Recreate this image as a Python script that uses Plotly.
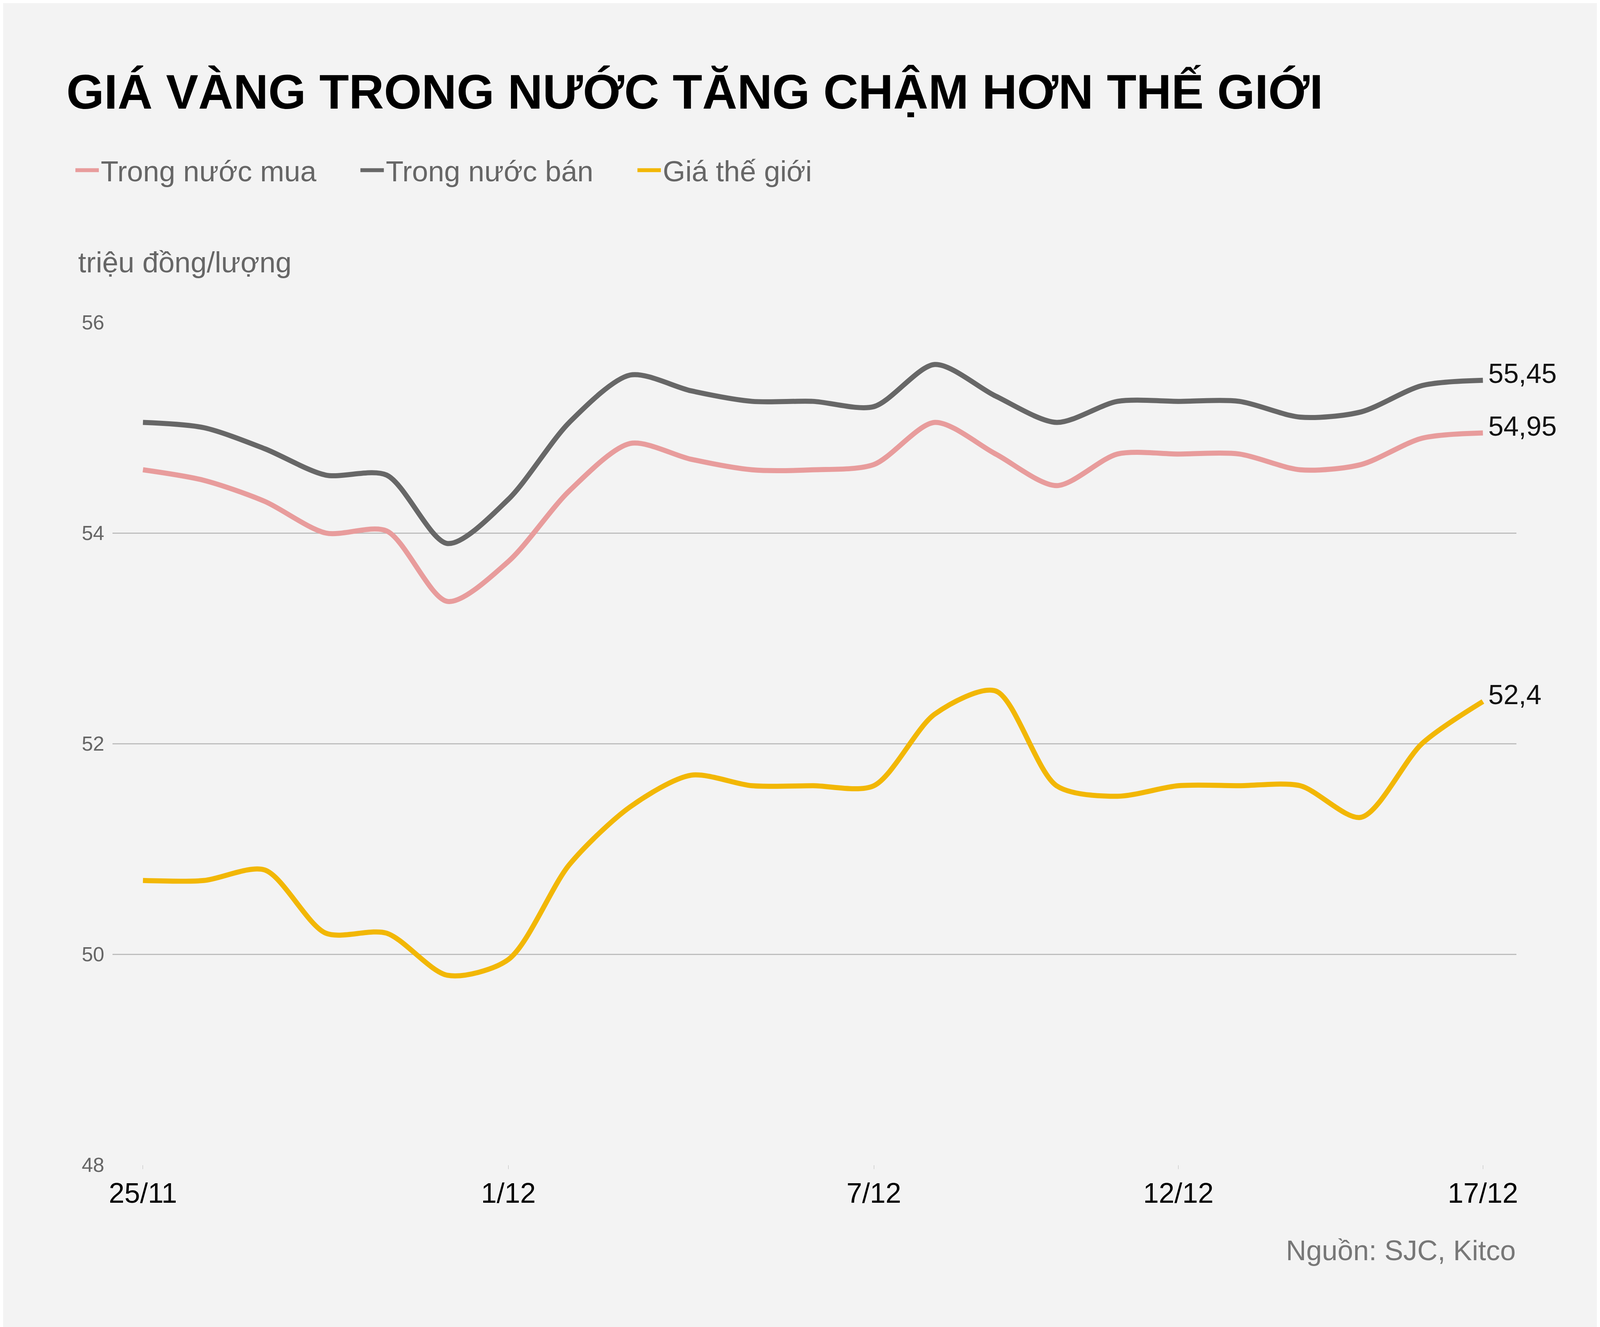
import plotly.graph_objects as go

days = list(range(23))
tick_pos = [0, 6, 12, 17, 22]
tick_text = ["25/11", "1/12", "7/12", "12/12", "17/12"]

mua = [54.6, 54.5, 54.3, 54.0, 54.02, 53.35, 53.73, 54.4, 54.85, 54.7, 54.6, 54.6,
       54.65, 55.05, 54.75, 54.45, 54.75, 54.75, 54.75, 54.6, 54.65, 54.9, 54.95]
ban = [55.05, 55.0, 54.8, 54.55, 54.55, 53.9, 54.32, 55.05, 55.5, 55.35, 55.25, 55.25,
       55.2, 55.6, 55.3, 55.05, 55.25, 55.25, 55.25, 55.1, 55.15, 55.4, 55.45]
the_gioi = [50.7, 50.7, 50.8, 50.2, 50.2, 49.8, 49.95, 50.85, 51.4, 51.7, 51.6, 51.6,
            51.6, 52.28, 52.5, 51.6, 51.5, 51.6, 51.6, 51.6, 51.3, 52.0, 52.4]

series = [
    ("Trong nước mua", mua, "#E89C9C", "54,95"),
    ("Trong nước bán", ban, "#676767", "55,45"),
    ("Giá thế giới", the_gioi, "#F2B705", "52,4"),
]

W, H = 4175, 3396
L, R, T, B = 280, 301, 817, 423
plot_h = H - T - B

fig = go.Figure()
for name, vals, color, label in series:
    fig.add_trace(go.Scatter(x=days, y=vals, name=name + "     ", mode="lines",
                             line=dict(color=color, width=13, shape="spline", smoothing=0.8)))
    fig.add_annotation(x=days[-1], y=vals[-1], text=label, showarrow=False,
                       xanchor="left", yanchor="bottom", xshift=12, yshift=-24,
                       font=dict(size=70, color="#111111"))

fig.update_layout(
    width=W, height=H,
    paper_bgcolor="#F3F3F3", plot_bgcolor="#F3F3F3",
    font=dict(family="Liberation Sans, Arial", color="#666666"),
    margin=dict(l=L, r=R, t=T, b=B),
    title=dict(text="<b>GIÁ VÀNG TRONG NƯỚC TĂNG CHẬM HƠN THẾ GIỚI</b>",
               x=162 / W, xref="container", xanchor="left",
               y=1 - 227 / H, yref="container", yanchor="middle",
               font=dict(size=124, color="#000000")),
    legend=dict(orientation="h", x=180 / W, xref="container", xanchor="left",
                y=1 - 428 / H, yref="container", yanchor="middle",
                font=dict(size=74, color="#666666"), itemwidth=60,
                bgcolor="rgba(0,0,0,0)"),
    showlegend=True,
)
fig.update_xaxes(range=[-0.5, 22.55], tickvals=tick_pos, ticktext=tick_text,
                 showgrid=False, zeroline=False,
                 tickfont=dict(size=72, color="#000000"),
                 ticks="outside", ticklen=10, tickcolor="#BBBBBB")
fig.update_yaxes(range=[48, 56], dtick=2, showgrid=True, gridcolor="#BDBDBD", gridwidth=3,
                 zeroline=False, tickfont=dict(size=52, color="#666666"), ticklabelstandoff=20)
fig.add_annotation(text="triệu đồng/lượng", xref="paper", yref="paper",
                   x=(190 - L) / (W - L - R), y=1 + (T - 663) / plot_h, showarrow=False,
                   xanchor="left", yanchor="middle", font=dict(size=74, color="#666666"))
fig.add_annotation(text="Nguồn: SJC, Kitco", xref="paper", yref="paper",
                   x=1, y=-(3192 - (H - B)) / plot_h, showarrow=False,
                   xanchor="right", yanchor="middle", font=dict(size=72, color="#777777"))

fig.write_html("out.html")
